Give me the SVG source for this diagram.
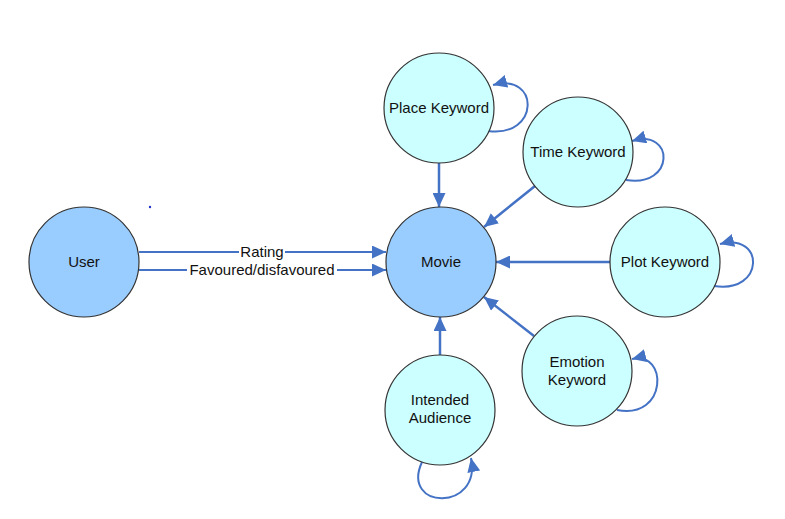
<svg xmlns="http://www.w3.org/2000/svg" width="785" height="519" viewBox="0 0 785 519">
<defs>
<marker id="ah" markerUnits="userSpaceOnUse" markerWidth="14" markerHeight="13" refX="14" refY="6.5" orient="auto">
<path d="M0,0 L14,6.5 L0,13 z" fill="#4472c4"/>
</marker>
<style>
.n{stroke:#333;stroke-width:1.2}
.main{fill:#99ccff}
.kw{fill:#ccffff}
text{font-family:"Liberation Sans",Arial,sans-serif;font-size:15px;fill:#111;text-anchor:middle}
.e{fill:none;stroke:#4472c4;stroke-width:2.5}
.t{stroke-width:2}
.l{fill:none;stroke:#4472c4;stroke-width:2}
</style>
</defs>
<rect width="785" height="519" fill="#fff"/>
<circle cx="150" cy="207" r="1.2" fill="#2233cc"/>
<g id="connectors">
<line class="e t" x1="139" y1="252" x2="386" y2="252" marker-end="url(#ah)"/>
<line class="e t" x1="139" y1="270" x2="386" y2="270" marker-end="url(#ah)"/>
<line class="e" x1="439" y1="162" x2="439" y2="207" marker-end="url(#ah)"/>
<line class="e" x1="535" y1="186" x2="484" y2="227" marker-end="url(#ah)"/>
<line class="e" x1="610" y1="262" x2="496" y2="262" marker-end="url(#ah)"/>
<line class="e" x1="534" y1="336" x2="484" y2="297" marker-end="url(#ah)"/>
<line class="e" x1="440" y1="355" x2="440" y2="317" marker-end="url(#ah)"/>
<path class="l" d="M488,131 C540,138 540,72 493,85" marker-end="url(#ah)"/>
<path class="l" d="M626,180 C675,188 675,128 632,141" marker-end="url(#ah)"/>
<path class="l" d="M714,286 C765,294 765,232 720,244" marker-end="url(#ah)"/>
<path class="l" d="M617,410 C668,420 668,350 632,359" marker-end="url(#ah)"/>
<path class="l" d="M422,462 C400,510 482,512 471,458" marker-end="url(#ah)"/>
<rect x="239" y="243" width="46" height="16" fill="#fff"/>
<text x="262" y="257">Rating</text>
<rect x="187" y="262" width="150" height="16" fill="#fff"/>
<text x="262" y="275">Favoured/disfavoured</text>
</g>
<g id="user"><circle class="n main" cx="84" cy="262" r="55"/><text x="84" y="267">User</text></g>
<g id="movie"><circle class="n main" cx="441" cy="262" r="55"/><text x="441" y="267">Movie</text></g>
<g id="place"><circle class="n kw" cx="439" cy="108" r="55"/><text x="439" y="113">Place Keyword</text></g>
<g id="time"><circle class="n kw" cx="578" cy="152" r="55"/><text x="578" y="157">Time Keyword</text></g>
<g id="plot"><circle class="n kw" cx="665" cy="262" r="55"/><text x="665" y="267">Plot Keyword</text></g>
<g id="emotion"><circle class="n kw" cx="577" cy="371" r="55"/><text x="577" y="367">Emotion</text><text x="577" y="385">Keyword</text></g>
<g id="audience"><circle class="n kw" cx="440" cy="410" r="55"/><text x="440" y="405">Intended</text><text x="440" y="423">Audience</text></g>
</svg>
